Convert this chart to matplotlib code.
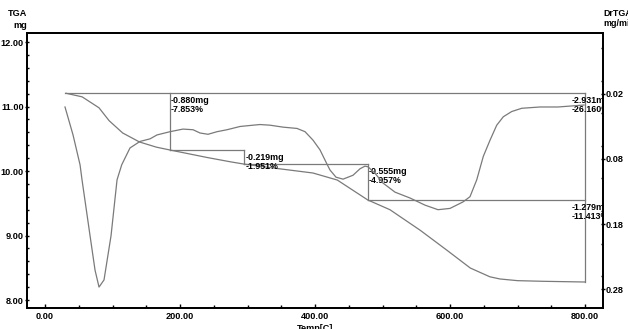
import matplotlib
matplotlib.use('Agg')
import matplotlib.pyplot as plt
from matplotlib.ticker import MultipleLocator

plt.rcParams['font.family'] = ['Liberation Sans Narrow', 'Liberation Sans', 'DejaVu Sans']
plt.rcParams['font.weight'] = 'bold'

# TGA curve (mg)
tga_temp = [31, 55, 80, 95, 115, 140, 165, 185, 240, 274, 295, 338, 397, 433, 478,
            511, 556, 595, 630, 659, 674, 700, 738, 800]
tga_mass = [11.206, 11.15, 10.98, 10.78, 10.59, 10.45, 10.37, 10.326, 10.21, 10.144,
            10.107, 10.047, 9.969, 9.86, 9.552, 9.40, 9.08, 8.775, 8.496, 8.36,
            8.326, 8.30, 8.29, 8.279]

# DrTGA curve (mg/min)
dr_temp = [29.6, 41.5, 51.9, 54.8, 66.7, 74.1, 80.0, 87.4, 97.8, 106.7, 113.6, 125.9,
           140.7, 155.6, 165.9, 185.2, 204.4, 219.3, 229.6, 241.5, 254.8, 269.6, 288.9,
           308.1, 318.5, 333.3, 352.6, 373.3, 385.2, 397.0, 407.4, 417.3, 422.2, 431.1,
           441.5, 456.3, 466.7, 474.0, 478.5, 488.9, 500.7, 518.5, 540.7, 563.0, 582.2,
           600.0, 619.3, 629.6, 639.6, 649.3, 659.3, 669.2, 679.0, 691.4, 706.2, 733.3,
           760.0, 798.5]
dr_rate = [-0.040, -0.083, -0.129, -0.152, -0.238, -0.291, -0.317, -0.306, -0.238, -0.152,
           -0.129, -0.103, -0.093, -0.089, -0.083, -0.078, -0.074, -0.075, -0.080, -0.082,
           -0.078, -0.075, -0.070, -0.068, -0.067, -0.068, -0.071, -0.073, -0.078, -0.091,
           -0.106, -0.127, -0.137, -0.148, -0.151, -0.145, -0.135, -0.131, -0.132, -0.142,
           -0.157, -0.171, -0.180, -0.191, -0.198, -0.196, -0.186, -0.178, -0.152, -0.116,
           -0.091, -0.068, -0.055, -0.047, -0.042, -0.040, -0.040, -0.037]

# step analysis
step_temp = [30, 185, 295, 478, 800]
step_mass = [11.206, 10.326, 10.107, 9.552, 8.279]
step_labels = ['-0.880mg\n-7.853%', '-0.219mg\n-1.951%', '-0.555mg\n-4.957%']
total_labels = ['-2.931mg\n-26.160%', '-1.279mg\n-11.413%']

x_ticks = [0, 200, 400, 600, 800]
x_labels = ['0.00', '200.00', '400.00', '600.00', '800.00']
y_ticks = [8, 9, 10, 11, 12]
y_labels = ['8.00', '9.00', '10.00', '11.00', '12.00']
r_ticks = [-0.02, -0.12, -0.22, -0.32]
r_labels = ['0.02', '0.08', '0.18', '0.28']

W, H = 628, 329
fig = plt.figure(figsize=(W / 100, H / 100), dpi=100)
ax = fig.add_axes([27 / W, 21 / H, (602.5 - 27) / W, (308 - 33) / H])
ax2 = ax.twinx()

gray = '#7a7a7a'
ax.plot(tga_temp, tga_mass, color=gray, lw=0.9)
ax2.plot(dr_temp, dr_rate, color=gray, lw=0.9)

# step lines
m0 = step_mass[0]
ax.plot([step_temp[0], step_temp[-1]], [m0, m0], color=gray, lw=0.9)
for i in range(1, 4):
    t = step_temp[i]
    ax.plot([t, t], [step_mass[i - 1], step_mass[i]], color=gray, lw=0.9)
    ax.plot([t, step_temp[i + 1]], [step_mass[i], step_mass[i]], color=gray, lw=0.9)
ax.plot([step_temp[-1], step_temp[-1]], [m0, step_mass[-1]], color=gray, lw=0.9)

fs = 6.4
for i in range(3):
    ax.annotate(step_labels[i], xy=(step_temp[i + 1], step_mass[i]), xytext=(1, -3),
                textcoords='offset pixels', ha='left', va='top', fontsize=fs,
                fontweight='bold', linespacing=1.0)
for lab, m in zip(total_labels, [m0, step_mass[3]]):
    ax.annotate(lab, xy=(780, m), xytext=(0, -3), textcoords='offset pixels',
                ha='left', va='top', fontsize=fs, fontweight='bold',
                linespacing=1.0, clip_on=True)

ax.set_xlim(-26.7, 825.9)
ax.set_ylim(7.876, 12.14)
ax2.set_ylim(-0.3492, 0.0738)

ax.set_xticks(x_ticks, x_labels)
ax.set_yticks(y_ticks, y_labels)
ax2.set_yticks(r_ticks, r_labels)
ax.xaxis.set_minor_locator(MultipleLocator(50))
ax.yaxis.set_minor_locator(MultipleLocator(0.2))
ax2.yaxis.set_minor_locator(MultipleLocator(0.05))

ax.tick_params(axis='x', which='major', direction='in', length=3, width=1, pad=3,
               labelsize=6.6, top=False)
ax.tick_params(axis='x', which='minor', direction='in', length=2, width=1, top=False)
ax.tick_params(axis='y', which='major', direction='inout', length=3.5, width=1, pad=0.5,
               labelsize=6.6, right=False)
ax.tick_params(axis='y', which='minor', direction='in', length=1.5, width=1, right=False)
ax2.tick_params(axis='y', which='major', direction='inout', length=3.5, width=1, pad=0.5,
                labelsize=6.6)
ax2.tick_params(axis='y', which='minor', direction='in', length=1.5, width=1)
for a in (ax, ax2):
    for s in a.spines.values():
        s.set_linewidth(1.3)

ax.set_xlabel('Temp[C]', fontsize=6.6, fontweight='bold', labelpad=2)
fig.text(27 / W, 1 - 13.5 / H, 'TGA', ha='right', va='center', fontsize=6.6, fontweight='bold')
fig.text(27 / W, 1 - 25 / H, 'mg', ha='right', va='center', fontsize=6.6, fontweight='bold')
fig.text(603 / W, 1 - 14 / H, 'DrTGA', ha='left', va='center', fontsize=6.4, fontweight='bold')
fig.text(603 / W, 1 - 23.7 / H, 'mg/min', ha='left', va='center', fontsize=6.4, fontweight='bold')

fig.savefig('out.png', dpi=100)
